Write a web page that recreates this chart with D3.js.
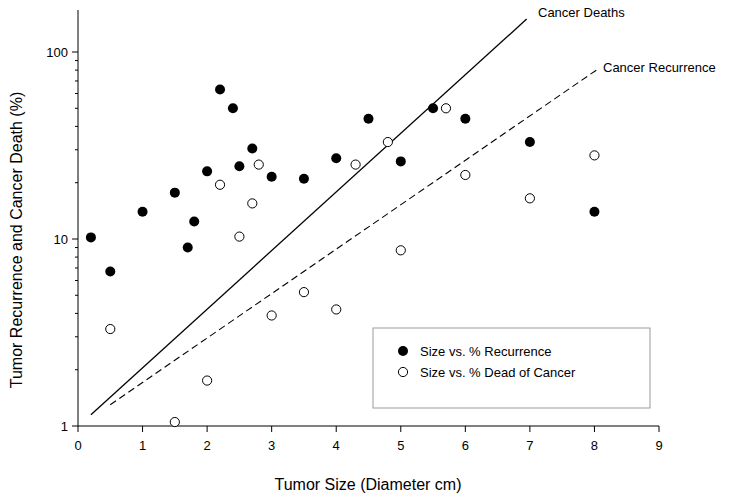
<!DOCTYPE html><html><head><script src="https://cdn.jsdelivr.net/npm/d3@7"></script>
<style>body{margin:0;background:#fff}text{font-family:Arial,"Liberation Sans",sans-serif}</style></head><body>
<svg id="c" width="744" height="500"></svg>
<script>
const recX=[0.2,0.5,1,1.5,1.7,1.8,2,2.2,2.4,2.5,2.7,3,3.5,4,4.5,5,5.5,6,7,8];
const recY=[10.2,6.7,14,17.7,9,12.4,23,63,50,24.5,30.5,21.5,21,27,44,26,50,44,33,14];
const deadX=[0.5,1.5,2,2.2,2.5,2.7,2.8,3,3.5,4,4.3,4.8,5,5.7,6,7,8];
const deadY=[3.3,1.05,1.75,19.5,10.3,15.5,25,3.9,5.2,4.2,25,33,8.7,50,22,16.5,28];
const deathLine=[[0.2,1.15],[6.95,150]];
const recurLine=[[0.5,1.3],[8.03,80]];
const xTicks=[0,1,2,3,4,5,6,7,8,9], yTicks=[1,10,100];
const svg=d3.select("#c");
const x=d3.scaleLinear().domain([0,9]).range([78,659]);
const y=d3.scaleLog().domain([1,100]).range([426,52]);
svg.append("line").attr("x1",78).attr("x2",78).attr("y1",10).attr("y2",426).attr("stroke","#000");
svg.append("line").attr("x1",78).attr("x2",659).attr("y1",426).attr("y2",426).attr("stroke","#000");
xTicks.forEach(t=>{svg.append("line").attr("x1",x(t)).attr("x2",x(t)).attr("y1",426).attr("y2",432).attr("stroke","#000");
 svg.append("text").attr("x",x(t)).attr("y",450).attr("text-anchor","middle").attr("font-size",13).text(t);});
yTicks.forEach(t=>{svg.append("line").attr("x1",72).attr("x2",78).attr("y1",y(t)).attr("y2",y(t)).attr("stroke","#000");
 svg.append("text").attr("x",68).attr("y",y(t)+5).attr("text-anchor","end").attr("font-size",13).text(t);});
const minor=[];[1,10].forEach(d=>{for(let k=2;k<10;k++)minor.push(d*k)});for(let k=2;k<=2;k++)minor.push(100*k);
minor.forEach(t=>{if(y(t)>=10)svg.append("line").attr("x1",75).attr("x2",78).attr("y1",y(t)).attr("y2",y(t)).attr("stroke","#000");});
svg.append("text").attr("x",368).attr("y",490).attr("text-anchor","middle").attr("font-size",16).text("Tumor Size (Diameter cm)");
svg.append("text").attr("transform","translate(22,240) rotate(-90)").attr("text-anchor","middle").attr("font-size",16).text("Tumor Recurrence and Cancer Death (%)");
const ln=d3.line().x(d=>x(d[0])).y(d=>y(d[1]));
svg.append("path").attr("d",ln(deathLine)).attr("stroke","#000").attr("fill","none").attr("stroke-width",1.3);
svg.append("path").attr("d",ln(recurLine)).attr("stroke","#000").attr("fill","none").attr("stroke-dasharray","7,4").attr("stroke-width",1.1);
svg.append("text").attr("x",538).attr("y",17).attr("font-size",13).text("Cancer Deaths");
svg.append("text").attr("x",603).attr("y",72).attr("font-size",13).text("Cancer Recurrence");
recX.forEach((v,i)=>svg.append("circle").attr("cx",x(v)).attr("cy",y(recY[i])).attr("r",5).attr("fill","#000"));
deadX.forEach((v,i)=>svg.append("circle").attr("cx",x(v)).attr("cy",y(deadY[i])).attr("r",4.6).attr("fill","#fff").attr("stroke","#000").attr("stroke-width",1));
svg.append("rect").attr("x",373).attr("y",328).attr("width",277).attr("height",80).attr("fill","none").attr("stroke","#999");
svg.append("circle").attr("cx",403).attr("cy",351).attr("r",5).attr("fill","#000");
svg.append("text").attr("x",420).attr("y",356).attr("font-size",13).text("Size vs. % Recurrence");
svg.append("circle").attr("cx",403).attr("cy",372).attr("r",4.6).attr("fill","#fff").attr("stroke","#000");
svg.append("text").attr("x",420).attr("y",377).attr("font-size",13).text("Size vs. % Dead of Cancer");
</script></body></html>
